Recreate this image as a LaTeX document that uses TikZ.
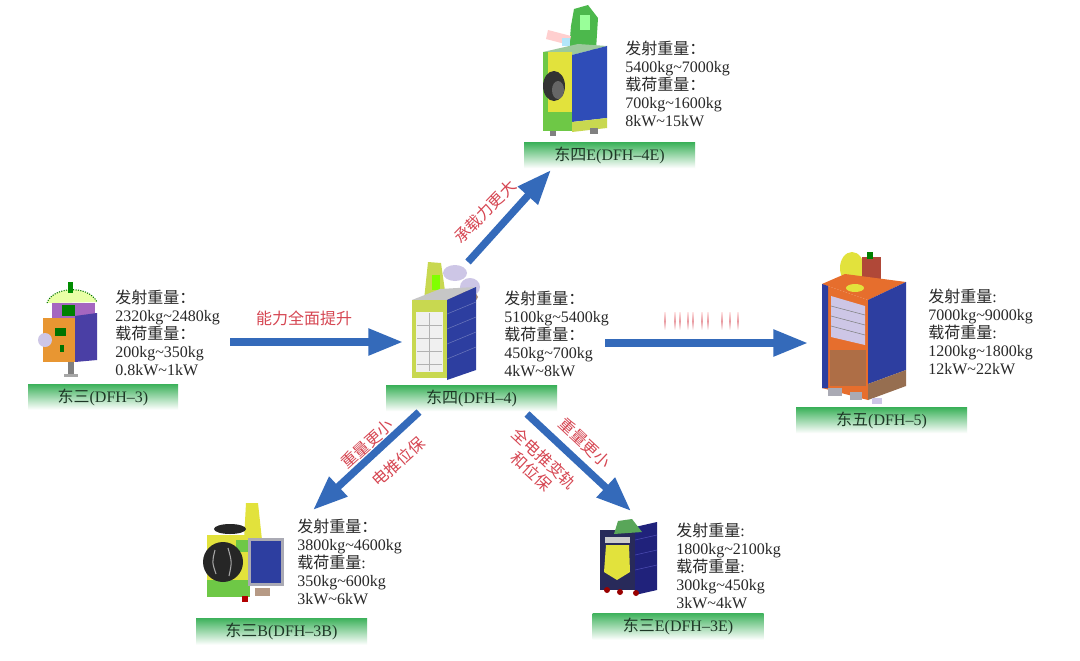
\documentclass[tikz,border=0pt]{standalone}
\usepackage{fontspec}
\setmainfont{Liberation Serif}
\newfontfamily\zhfont{Noto Sans CJK SC}
\newcommand{\zh}[1]{{\zhfont #1}}
\newcommand{\tld}{\textasciitilde}
\usetikzlibrary{arrows.meta}
\definecolor{arrowblue}{RGB}{52,106,186}
\definecolor{redtxt}{RGB}{214,70,82}
\definecolor{barg}{RGB}{62,178,92}
\definecolor{bartxt}{RGB}{30,55,38}
\definecolor{txtc}{RGB}{40,40,40}
\definecolor{sorange}{RGB}{232,150,50}
\definecolor{sorange2}{RGB}{230,110,45}
\definecolor{spurple}{RGB}{74,63,165}
\definecolor{sblue}{RGB}{45,62,160}
\definecolor{sblue2}{RGB}{47,77,184}
\definecolor{snavy}{RGB}{40,42,90}
\definecolor{syellow}{RGB}{226,226,60}
\definecolor{sygreen}{RGB}{200,216,80}
\definecolor{sgreen}{RGB}{110,200,70}
\definecolor{slav}{RGB}{205,198,230}
\definecolor{sbrown}{RGB}{150,110,80}
\definecolor{sbrick}{RGB}{176,72,56}
\definecolor{sgray}{RGB}{170,170,180}
\tikzset{
  info/.style={anchor=west, align=left, inner sep=0pt, text=txtc,
    font=\fontsize{12}{13.6}\selectfont},
  bar/.style={top color=barg, middle color=barg!72!white, bottom color=white,
    minimum width=128.25pt, minimum height=19pt, inner sep=0pt, text=bartxt,
    font=\fontsize{12}{14}\selectfont},
  bigarrow/.style={draw=arrowblue, line width=5.5pt,
    -{Triangle[length=26pt,width=19pt]}},
  redlab/.style={text=redtxt, inner sep=0pt, font=\fontsize{12}{14}\selectfont},
  mark/.style={line width=1.3pt}
}
\begin{document}
\begin{tikzpicture}[x=0.75pt,y=-0.75pt]
\useasboundingbox (0,0) rectangle (1080,660);
\fill[white] (0,0) rectangle (1080,660);

% ---------------- satellites (drawn directly) ----------------
% DFH-3
\fill[green!25!yellow!35!white] (47,303) .. controls (52,287) and (88,284) .. (97,302) -- cycle;
\draw[green!45!black, densely dotted, thick] (47,303) .. controls (52,287) and (88,284) .. (97,302);
\fill[green!55!black] (68,282) rectangle (73,293);
\fill[purple!55!blue!60!white] (52,303) rectangle (95,318);
\fill[green!50!black] (62,305) rectangle (75,316);
\fill[sorange] (43,318) rectangle (75,362);
\fill[green!45!black] (55,328) rectangle (66,336);
\fill[green!45!black] (60,345) rectangle (64,352);
\fill[spurple] (75,316) -- (97,313) -- (97,360) -- (75,362) -- cycle;
\fill[slav] (45,340) circle (7);
\fill[gray] (68,362) rectangle (74,376);
\fill[gray!70] (64,374) rectangle (78,377);

% DFH-4
\fill[slav] (455,273) ellipse [x radius=12, y radius=8];
\fill[slav] (470,287) ellipse [x radius=10, y radius=9];
\fill[sygreen] (428,262) -- (441,263) -- (446,298) -- (424,300) -- cycle;
\fill[green!50!yellow] (432,275) rectangle (440,290);
\fill[sbrown!80!white] (458,297) ellipse [x radius=20, y radius=7];
\fill[gray!45] (412,300) -- (440,289) -- (475,287) -- (447,300) -- cycle;
\fill[sygreen] (412,300) rectangle (447,378);
\fill[gray!12] (416,312) rectangle (443,372);
\foreach \yy in {325,338,351,364} \draw[gray!60] (417,\yy) -- (442,\yy);
\draw[gray!60] (429,313) -- (429,371);
\fill[sblue] (447,300) -- (476,287) -- (476,370) -- (447,380) -- cycle;
\foreach \yy in {310,325,340,355} \draw[sblue!70!white, thin] (447,\yy+4) -- (476,\yy-8);

% DFH-4E
\fill[green!60!black!70!white] (574,9) -- (588,5) -- (598,18) -- (596,50) -- (569,50) -- (571,26) -- cycle;
\fill[green!40!white] (580,15) rectangle (590,30);
\fill[pink!70!red!40!white] (548,30) -- (571,36) -- (569,45) -- (546,39) -- cycle;
\fill[cyan!30!white] (562,38) rectangle (570,46);
\fill[green!30!gray!60!white] (543,52) -- (578,44) -- (607,46) -- (572,55) -- cycle;
\fill[syellow] (543,52) rectangle (572,112);
\fill[sgreen] (543,112) rectangle (572,131);
\fill[sgreen] (543,52) rectangle (548,131);
\fill[sblue2] (572,55) -- (607,46) -- (607,118) -- (572,122) -- cycle;
\fill[sygreen] (572,122) -- (607,118) -- (607,128) -- (572,132) -- cycle;
\fill[black!80] (554,86) ellipse [x radius=11, y radius=15];
\fill[black!60] (558,90) ellipse [x radius=6, y radius=9];
\fill[gray] (550,131) rectangle (556,136);
\fill[gray] (590,128) rectangle (598,134);

% DFH-5
\fill[syellow] (852,268) ellipse [x radius=12, y radius=16];
\fill[sbrick] (862,257) rectangle (881,293);
\fill[green!50!black] (867,252) rectangle (873,259);
\fill[sorange2] (822,284) -- (845,274) -- (906,282) -- (868,300) -- cycle;
\fill[syellow] (855,288) ellipse [x radius=9, y radius=4];
\fill[sorange2] (822,284) -- (868,300) -- (868,400) -- (822,388) -- cycle;
\fill[sblue] (822,284) -- (828,286) -- (828,388) -- (822,388) -- cycle;
\fill[slav] (831,296) -- (865,306) -- (865,345) -- (831,337) -- cycle;
\foreach \yy in {306,316,326} \draw[gray] (831,\yy) -- (865,\yy+9);
\fill[sbrown!70!sorange2] (830,350) rectangle (866,386);
\fill[sblue] (868,300) -- (906,282) -- (906,370) -- (868,384) -- cycle;
\fill[sbrown] (868,384) -- (906,370) -- (906,386) -- (868,400) -- cycle;
\fill[sgray] (828,388) rectangle (842,396);
\fill[sgray] (850,392) rectangle (862,400);
\fill[slav] (872,398) rectangle (882,404);

% DFH-3B
\fill[syellow] (246,503) -- (258,503) -- (262,540) -- (244,540) -- cycle;
\fill[syellow] (207,535) rectangle (250,597);
\fill[sgreen] (207,580) rectangle (250,597);
\fill[sgreen] (236,540) rectangle (248,552);
\fill[black!85] (230,529) ellipse [x radius=16, y radius=5];
\fill[black!85] (223,562) circle (20);
\draw[gray!70, thick] (215,550) .. controls (212,562) .. (216,574);
\draw[gray!70, thick] (228,548) .. controls (232,562) .. (229,576);
\fill[sgray] (248,538) rectangle (284,586);
\fill[sblue] (251,541) rectangle (281,583);
\fill[sbrown!70!white] (255,588) rectangle (270,596);
\fill[red!70!black] (242,596) rectangle (248,602);

% DFH-3E
\fill[snavy!80!blue] (635,527) -- (657,522) -- (657,590) -- (635,595) -- cycle;
\foreach \yy in {540,555,570} \draw[blue!40!gray] (635,\yy) -- (657,\yy-5);
\fill[snavy] (600,530) rectangle (635,590);
\fill[syellow] (606,545) -- (629,545) -- (630,572) -- (617,580) -- (604,572) -- cycle;
\fill[gray!40] (605,537) rectangle (630,543);
\fill[green!30!gray] (618,521) -- (632,519) -- (642,532) -- (614,534) -- cycle;
\fill[red!60!black] (607,590) circle (3);
\fill[red!60!black] (620,592) circle (3);
\fill[red!60!black] (636,593) circle (3);

% ---------------- text blocks ----------------
\node[info] (t3) at (115,333) {\zh{发射重量：}\\2320kg\tld 2480kg\\\zh{载荷重量：}\\200kg\tld 350kg\\0.8kW\tld 1kW};
\node[info] (t4) at (504,334) {\zh{发射重量：}\\5100kg\tld 5400kg\\\zh{载荷重量：}\\450kg\tld 700kg\\4kW\tld 8kW};
\node[info] (t4e) at (625,84) {\zh{发射重量：}\\5400kg\tld 7000kg\\\zh{载荷重量：}\\700kg\tld 1600kg\\8kW\tld 15kW};
\node[info] (t5) at (928,332) {\zh{发射重量}:\\7000kg\tld 9000kg\\\zh{载荷重量}:\\1200kg\tld 1800kg\\12kW\tld 22kW};
\node[info] (t3b) at (297,562) {\zh{发射重量：}\\3800kg\tld 4600kg\\\zh{载荷重量}:\\350kg\tld 600kg\\3kW\tld 6kW};
\node[info] (t3e) at (676,566) {\zh{发射重量}:\\1800kg\tld 2100kg\\\zh{载荷重量}:\\300kg\tld 450kg\\3kW\tld 4kW};

% ---------------- name bars ----------------
\node[bar, minimum width=112.5pt] (b3) at (103,397) {\zh{东三}(DFH–3)};
\node[bar] (b4) at (471.5,398.5) {\zh{东四}(DFH–4)};
\node[bar] (b4e) at (609.5,155.5) {\zh{东四}E(DFH–4E)};
\node[bar] (b5) at (881.5,420.5) {\zh{东五}(DFH–5)};
\node[bar, minimum height=20pt] (b3b) at (281.5,631.5) {\zh{东三}B(DFH–3B)};
\node[bar, minimum height=20pt] (b3e) at (678,626.5) {\zh{东三}E(DFH–3E)};

% ---------------- arrows ----------------
\coordinate (a1s) at (230,342);
\coordinate (a1e) at (403,342);
\coordinate (a2s) at (605,343);
\coordinate (a2e) at (808,343);
\coordinate (a3s) at (468,262);
\coordinate (a3e) at (551,170);
\coordinate (a4s) at (419,412);
\coordinate (a4e) at (313,510);
\coordinate (a5s) at (527,414);
\coordinate (a5e) at (631,511);
\draw[bigarrow] (a1s) -- (a1e);
\draw[bigarrow] (a2s) -- (a2e);
\draw[bigarrow] (a3s) -- (a3e);
\draw[bigarrow] (a4s) -- (a4e);
\draw[bigarrow] (a5s) -- (a5e);

% ---------------- red labels ----------------
\node[redlab] (l1) at (304,318) {\zh{能力全面提升}};
\node[redlab, rotate=46] (l2) at (485,212) {\zh{承载力更大}};
\node[redlab, rotate=42] (l3) at (367,444) {\zh{重量更小}};
\node[redlab, rotate=42] (l4) at (398,462) {\zh{电推位保}};
\node[redlab, rotate=-43] (l5) at (585,443) {\zh{重量更小}};
\node[redlab, rotate=-43, align=center] (l6) at (538,465) {\zh{全电推变轨}\\\zh{和位保}};

% faint red marks
\foreach \xx in {665,675,680,688,693,702,708,722,730,738}
  \shade[top color=pink!40!white, bottom color=white, middle color=redtxt!55!white]
    (\xx-0.8,312) rectangle (\xx+0.8,330);
\end{tikzpicture}
\end{document}
